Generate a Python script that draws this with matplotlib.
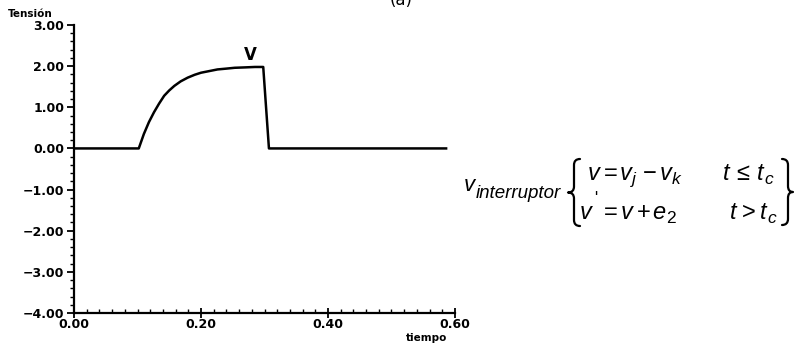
import matplotlib
matplotlib.use("Agg")
import matplotlib.pyplot as plt
from matplotlib.ticker import MultipleLocator, FuncFormatter
from matplotlib.path import Path
from matplotlib.patches import PathPatch

# Data
t_vals = [0.00, 0.102, 0.110, 0.118, 0.126, 0.134, 0.142, 0.150, 0.158, 0.168,
          0.179, 0.190, 0.200, 0.213, 0.226, 0.240, 0.253, 0.270, 0.285, 0.298,
          0.307, 0.40, 0.50, 0.586]
v_vals = [0.00, 0.00, 0.35, 0.64, 0.88, 1.09, 1.28, 1.41, 1.52, 1.63,
          1.72, 1.79, 1.84, 1.88, 1.92, 1.94, 1.96, 1.97, 1.98, 1.98,
          0.00, 0.00, 0.00, 0.00]
x_ticks = [0.00, 0.20, 0.40, 0.60]
y_ticks = [-4.0, -3.0, -2.0, -1.0, 0.0, 1.0, 2.0, 3.0]

W, H = 794, 343
fig = plt.figure(figsize=(W/100, H/100), dpi=100)
ax = fig.add_axes([74/W, 30/H, (455-74)/W, (313-25)/H])

ax.plot(t_vals, v_vals, color='black', lw=1.8)
ax.set_xlim(0, 0.6)
ax.set_ylim(-4, 3)
ax.set_xticks(x_ticks)
ax.set_yticks(y_ticks)
ax.xaxis.set_minor_locator(MultipleLocator(0.02))
ax.yaxis.set_minor_locator(MultipleLocator(0.2))

def fmt(v, pos):
    s = '%.2f' % abs(v)
    return ('\u2212' + s) if v < -1e-9 else s

ax.xaxis.set_major_formatter(FuncFormatter(fmt))
ax.yaxis.set_major_formatter(FuncFormatter(fmt))

for s in ['top', 'right']:
    ax.spines[s].set_visible(False)
for s in ['left', 'bottom']:
    ax.spines[s].set_linewidth(1.6)

ax.tick_params(axis='y', which='major', direction='out', length=5, width=1.3,
               labelsize=9, pad=2)
ax.tick_params(axis='y', which='minor', direction='out', length=3, width=1.0)
ax.tick_params(axis='x', which='major', direction='inout', length=7, width=1.3,
               labelsize=9, pad=0)
ax.tick_params(axis='x', which='minor', direction='in', length=3, width=1.0)
for lab in ax.get_xticklabels() + ax.get_yticklabels():
    lab.set_fontweight('bold')

ax.text(0.278, 2.28, 'V', fontsize=12, fontweight='bold', ha='center', va='center')

fig.text(8/W, 1 - 14/H, 'Tensión', fontsize=7.5, fontweight='bold', ha='left', va='center')
fig.text(427/W, 1 - 338/H, 'tiempo', fontsize=7.5, fontweight='bold', ha='center', va='center')
fig.text(401/W, 1.0, '(a)', fontsize=12, ha='center', va='center')

# Equation on the right, placed glyph group by glyph group
# (x = left edge, y = baseline, both in pixels from the top-left corner)
FAM = ['Liberation Sans', 'DejaVu Sans']
def g(px, py, s, size=17, italic=True):
    fig.text(px/W, 1 - py/H, s, fontsize=size, ha='left', va='baseline',
             family=FAM, style='italic' if italic else 'normal')

g(464, 191, 'v', size=16)
g(476, 198, 'interruptor', size=13.5)
# line 1
g(588, 180, 'v')
g(604, 180, '=', italic=False)
g(620, 180, 'v')
g(632, 184, 'j', size=12.5)
g(643, 180, '\u2212', italic=False)
g(660, 180, 'v')
g(672, 184, 'k', size=12.5)
g(723, 180, 't')
g(736, 180, '\u2264', italic=False)
g(757, 180, 't')
g(764, 184, 'c', size=12.5)
# line 2
g(580, 219, 'v')
g(594, 203, "'", size=12, italic=False)
g(604, 219, '=', italic=False)
g(621, 219, 'v')
g(637, 219, '+', italic=False)
g(652, 219, 'e')
g(666, 223, '2', size=12.5, italic=False)
g(730, 219, 't')
g(742, 219, '>', italic=False)
g(760, 219, 't')
g(767, 223, 'c', size=12.5)

def brace(x_tip, x_stem, x_mid, y0, y1):
    # brace drawn in pixel coordinates (y from the top); x_tip at the ends,
    # x_stem for the vertical bar, x_mid for the central point
    m = (y0 + y1) / 2
    r = 6
    pts = [(x_tip, y0), (x_stem, y0), (x_stem, y0 + r),
           (x_stem, m - r), (x_stem, m), (x_mid, m),
           (x_stem, m), (x_stem, m + r),
           (x_stem, y1 - r), (x_stem, y1), (x_tip, y1)]
    codes = [Path.MOVETO, Path.CURVE3, Path.CURVE3,
             Path.LINETO, Path.CURVE3, Path.CURVE3,
             Path.CURVE3, Path.CURVE3,
             Path.LINETO, Path.CURVE3, Path.CURVE3]
    verts = [(x / W, 1 - y / H) for x, y in pts]
    fig.add_artist(PathPatch(Path(verts, codes), transform=fig.transFigure,
                             facecolor='none', edgecolor='black', lw=1.6,
                             capstyle='round', joinstyle='round'))

brace(580, 574, 568, 159, 226)
brace(782, 788, 793, 159, 225)

fig.savefig('out.png', dpi=100)
